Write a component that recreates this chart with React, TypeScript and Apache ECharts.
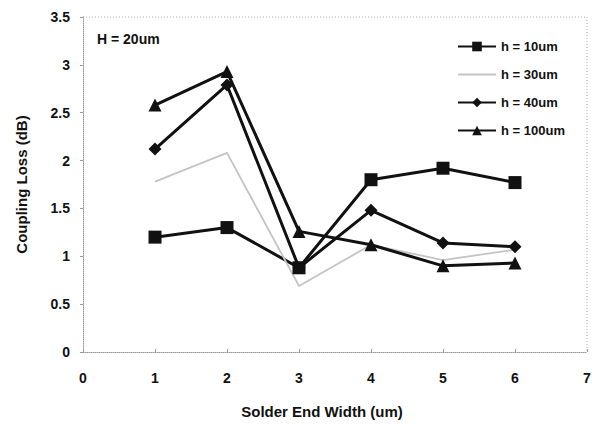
import React, { useEffect, useRef } from "react";
import * as echarts from "echarts";

const xValues = [1, 2, 3, 4, 5, 6];
const h10 = [1.2, 1.3, 0.88, 1.8, 1.92, 1.77];
const h30 = [1.78, 2.08, 0.69, 1.12, 0.96, 1.07];
const h40 = [2.12, 2.79, 0.88, 1.48, 1.14, 1.1];
const h100 = [2.58, 2.93, 1.26, 1.12, 0.9, 0.93];
const seriesNames = ["h = 10um", "h = 30um", "h = 40um", "h = 100um"];

const FONT = "Liberation Sans, Arial, sans-serif";

export default function App() {
  const ref = useRef<HTMLDivElement>(null);
  useEffect(() => {
    if (!ref.current) return;
    const chart = echarts.init(ref.current, null, { renderer: "svg" });
    const pair = (ys: number[]) => xValues.map((x, i) => [x, ys[i]]);
    const lineStyle = { color: "#111", width: 3 };
    chart.setOption({
      animation: false,
      backgroundColor: "#fff",
      textStyle: { fontFamily: FONT },
      grid: { left: 83, right: 9, top: 17, bottom: 76 },
      legend: {
        orient: "vertical",
        left: 452,
        top: 35,
        itemWidth: 38,
        itemHeight: 12,
        itemGap: 15,
        textStyle: { fontFamily: FONT, fontSize: 13, fontWeight: "bold", color: "#111" },
        data: [
          { name: seriesNames[0] },
          { name: seriesNames[1], itemStyle: { opacity: 0 } },
          { name: seriesNames[2] },
          { name: seriesNames[3] },
        ],
      },
      xAxis: {
        type: "value",
        min: 0,
        max: 7,
        interval: 1,
        axisLine: { lineStyle: { color: "#999", type: "dotted" } },
        axisTick: { inside: true, length: 3, lineStyle: { color: "#999" } },
        axisLabel: { fontFamily: FONT, fontSize: 14, fontWeight: "bold", color: "#111", margin: 19 },
        splitLine: { show: false },
      },
      yAxis: {
        type: "value",
        min: 0,
        max: 3.5,
        interval: 0.5,
        name: "Coupling Loss (dB)",
        nameLocation: "middle",
        nameGap: 54,
        nameTextStyle: { fontFamily: FONT, fontSize: 15, fontWeight: "bold", color: "#111" },
        axisLine: { lineStyle: { color: "#999", type: "dotted" } },
        axisTick: { length: 3, lineStyle: { color: "#999" } },
        axisLabel: { fontFamily: FONT, fontSize: 14, fontWeight: "bold", color: "#111", margin: 13 },
        splitLine: { show: false },
      },
      graphic: [
        {
          type: "text",
          left: 97,
          top: 32,
          style: { text: "H = 20um", font: `bold 14px ${FONT}`, fill: "#111" },
        },
        {
          type: "text",
          x: 322,
          y: 411,
          style: {
            text: "Solder End Width (um)",
            font: `bold 15px ${FONT}`,
            fill: "#111",
            align: "center",
            verticalAlign: "middle",
          },
        },
        {
          type: "line",
          shape: { x1: 83, y1: 17, x2: 587, y2: 17 },
          style: { stroke: "#aaa", lineWidth: 1, lineDash: [1, 2] },
        },
        {
          type: "line",
          shape: { x1: 587, y1: 17, x2: 587, y2: 352 },
          style: { stroke: "#aaa", lineWidth: 1, lineDash: [1, 2] },
        },
      ],
      series: [
        {
          name: seriesNames[0],
          type: "line",
          data: pair(h10),
          symbol: "rect",
          symbolSize: 13,
          itemStyle: { color: "#111" },
          lineStyle,
        },
        {
          name: seriesNames[1],
          type: "line",
          data: pair(h30),
          symbol: "none",
          itemStyle: { color: "#c4c4c4" },
          lineStyle: { color: "#c4c4c4", width: 1.8 },
        },
        {
          name: seriesNames[2],
          type: "line",
          data: pair(h40),
          symbol: "diamond",
          symbolSize: 13,
          itemStyle: { color: "#111" },
          lineStyle,
        },
        {
          name: seriesNames[3],
          type: "line",
          data: pair(h100),
          symbol: "triangle",
          symbolSize: 13,
          itemStyle: { color: "#111" },
          lineStyle,
        },
      ],
    });
    return () => chart.dispose();
  }, []);
  return <div ref={ref} style={{ width: 596, height: 428, position: "absolute", left: 0, top: 0 }} />;
}
